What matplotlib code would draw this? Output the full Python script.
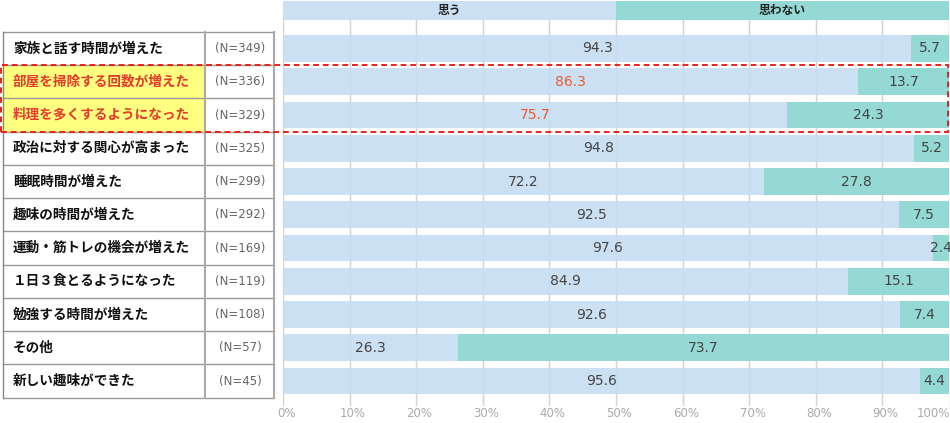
import matplotlib
matplotlib.use("Agg")
import matplotlib.pyplot as plt
from matplotlib.patches import Rectangle

plt.rcParams["font.family"] = ["Noto Sans CJK JP", "DejaVu Sans"]
NUM_FONT = ["DejaVu Sans"]

items = [
    "家族と話す時間が増えた", "部屋を掃除する回数が増えた", "料理を多くするようになった",
    "政治に対する関心が高まった", "睡眠時間が増えた", "趣味の時間が増えた",
    "運動・筋トレの機会が増えた", "１日３食とるようになった", "勉強する時間が増えた",
    "その他", "新しい趣味ができた",
]
n_labels = ["(N=349)", "(N=336)", "(N=329)", "(N=325)", "(N=299)", "(N=292)",
            "(N=169)", "(N=119)", "(N=108)", "(N=57)", "(N=45)"]
yes_vals = [94.3, 86.3, 75.7, 94.8, 72.2, 92.5, 97.6, 84.9, 92.6, 26.3, 95.6]
no_vals = [5.7, 13.7, 24.3, 5.2, 27.8, 7.5, 2.4, 15.1, 7.4, 73.7, 4.4]
highlight = [1, 2]
legend_labels = ["思う", "思わない"]
ticks = [0, 10, 20, 30, 40, 50, 60, 70, 80, 90, 100]

BLUE = "#cce0f4"
TEAL = "#95d9d4"
RED = "#e53b2c"
W, H = 950, 423

# y mapping: row i centre at 48.5 + 33.25*i pixels from top
row_px = 33.25
row0 = 48.5
top_px, bot_px = 0, 406
y_top = (top_px - row0) / row_px
y_bot = (bot_px - row0) / row_px

fig = plt.figure(figsize=(W / 100, H / 100), dpi=100)
ax = fig.add_axes([283 / W, 1 - bot_px / H, (949 - 283) / W, (bot_px - top_px) / H])
ax.set_xlim(0, 100)
ax.set_ylim(y_bot, y_top)
ax.axis("off")

rows = list(range(len(items)))
# gridlines: full behind the bars, faint on top of them
g_top = (19.5 - row0) / row_px
ax.vlines(ticks, g_top, y_bot, color="#d6d6d6", lw=1, zorder=0)

ax.barh(rows, yes_vals, height=0.81, color=BLUE, zorder=1)
ax.barh(rows, no_vals, left=yes_vals, height=0.81, color=TEAL, zorder=1)
ax.vlines(ticks, g_top, y_bot, color="#b8c4cc", lw=1, alpha=0.12, zorder=2)

# header band
hy = (10.5 - row0) / row_px
hh = 19 / row_px
ax.barh([hy], [50], height=hh, color=BLUE, zorder=1)
ax.barh([hy], [50], left=[50], height=hh, color=TEAL, zorder=1)
ax.text(25, hy, legend_labels[0], ha="center", va="center", fontsize=8.5,
        fontweight="bold", color="#222", zorder=3)
ax.text(75, hy, legend_labels[1], ha="center", va="center", fontsize=8.5,
        fontweight="bold", color="#222", zorder=3)

for i in rows:
    c = "#ec5a2e" if i in highlight else "#444444"
    ax.text(yes_vals[i] / 2, i, f"{yes_vals[i]:.1f}", ha="center", va="center",
            fontsize=10, color=c, family=NUM_FONT, zorder=3)
    ax.text(yes_vals[i] + no_vals[i] / 2, i, f"{no_vals[i]:.1f}", ha="center",
            va="center", fontsize=10, color="#444444", family=NUM_FONT, zorder=3)

tick_y = (413 - row0) / row_px
for t in ticks:
    ha = "right" if t == 100 else "center"
    x = 100.2 if t == 100 else t + 0.5
    ax.text(x, tick_y, f"{t}%", ha=ha, va="center", fontsize=8.5,
            color="#aaaaaa", family=NUM_FONT, clip_on=False)

# table on the left
tab = fig.add_axes([0, 1 - bot_px / H, 283 / W, (bot_px - top_px) / H])
tab.set_xlim(0, 283)
tab.set_ylim(y_bot, y_top)
tab.axis("off")

x0, xs, x1 = 3, 205, 274
for i in highlight:
    tab.add_patch(Rectangle((x0, i - 0.5), xs - x0, 1, color="#ffff80", zorder=0))
for k in range(len(items) + 1):
    tab.plot([x0, x1], [k - 0.5, k - 0.5], color="#999999", lw=1, zorder=1)
tab.plot([x0, x0], [-0.5, len(items) - 0.5], color="#888888", lw=1, zorder=1)
tab.plot([x1, x1], [-0.5, len(items) - 0.5], color="#aaaaaa", lw=1.5, zorder=1)
tab.plot([xs, xs], [-0.5, len(items) - 0.5], color="#aaaaaa", lw=1.5, zorder=1)

for i in rows:
    c = RED if i in highlight else "#111111"
    tab.text(13, i, items[i], ha="left", va="center", fontsize=9.8,
             fontweight="bold", color=c)
    tab.text(240, i, n_labels[i], ha="center", va="center", fontsize=8.5,
             color="#666666", family=NUM_FONT)

# red dashed frame around highlighted rows
fy0 = row0 + row_px * (highlight[0] - 0.5)
fy1 = row0 + row_px * (highlight[-1] + 0.5)
fig.add_artist(Rectangle((1 / W, 1 - fy1 / H), 947 / W, (fy1 - fy0) / H,
                         transform=fig.transFigure, fill=False, ec="#e8221b",
                         lw=1.4, ls=(0, (3, 2)), zorder=10))

fig.savefig("out.png", dpi=100, facecolor="white")
